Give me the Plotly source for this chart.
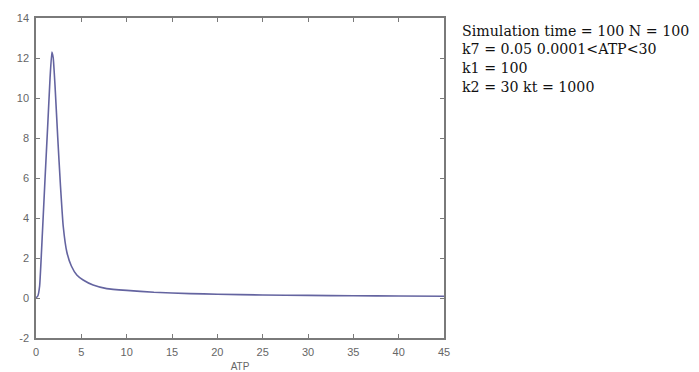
import plotly.graph_objects as go

# Data
atp = [0.0001, 0.2, 0.4, 0.7, 1.0, 1.3, 1.55, 1.75, 1.9, 2.1, 2.4, 2.7, 3.0, 3.4,
       3.9, 4.5, 5.2, 6.3, 7.8, 10, 13, 17, 20, 25, 30, 35, 40, 45]
value = [0.0, 0.1, 0.6, 3.2, 6.0, 8.7, 11.0, 12.3, 12.0, 10.6, 8.0, 5.6, 3.6, 2.3,
         1.6, 1.15, 0.9, 0.65, 0.47, 0.38, 0.29, 0.22, 0.19, 0.15, 0.13, 0.11, 0.1, 0.09]

x_ticks = [0, 5, 10, 15, 20, 25, 30, 35, 40, 45]
y_ticks = [-2, 0, 2, 4, 6, 8, 10, 12, 14]

info_lines = [
    "Simulation time = 100 N = 100",
    "k7 = 0.05 0.0001<ATP<30",
    "k1 = 100",
    "k2 = 30 kt = 1000",
]

OFF = 8  # page body margin
W, H = 699 - OFF, 372 - OFF
L, R, T, B = 36 - OFF, 444 - OFF, 18 - OFF, 338 - OFF

fig = go.Figure()
fig.add_trace(go.Scatter(
    x=atp, y=value, mode="lines",
    line=dict(color="#6464a0", width=1.6, shape="spline", smoothing=0.4),
    showlegend=False, hoverinfo="skip",
))

axis_common = dict(
    showline=True, linecolor="#7a7a7a", linewidth=1.5, mirror="ticks",
    ticks="inside", ticklen=4, tickcolor="#7a7a7a", tickwidth=1,
    showgrid=False, zeroline=False, automargin=False,
    tickfont=dict(family="Liberation Sans, Arial, sans-serif", size=11, color="#666666"),
)

fig.update_xaxes(range=[0, 45], tickvals=x_ticks, ticktext=[str(v) for v in x_ticks],
                 ticklabelstandoff=3,
                 title=dict(text="ATP", font=dict(family="Liberation Sans, Arial", size=10, color="#666666"),
                            standoff=10),
                 **axis_common)
fig.update_yaxes(range=[-2, 14], tickvals=y_ticks, ticktext=[str(v) for v in y_ticks],
                 ticklabelstandoff=3,
                 **axis_common)

line_centers = [31, 49.5, 68, 86.5]
for txt, py in zip(info_lines, line_centers):
    fig.add_annotation(
        text=txt, xref="paper", yref="paper",
        x=(461 - OFF - L) / (R - L), y=(B - (py - OFF)) / (B - T),
        xanchor="left", yanchor="middle", showarrow=False, borderpad=0,
        font=dict(family="DejaVu Serif, Liberation Serif, serif", size=14.2, color="#111111"),
    )

fig.update_layout(
    width=W, height=H,
    margin=dict(l=L, r=W - R, t=T, b=H - B, pad=0, autoexpand=False),
    paper_bgcolor="white", plot_bgcolor="white",
)

fig.write_html("out.html")
